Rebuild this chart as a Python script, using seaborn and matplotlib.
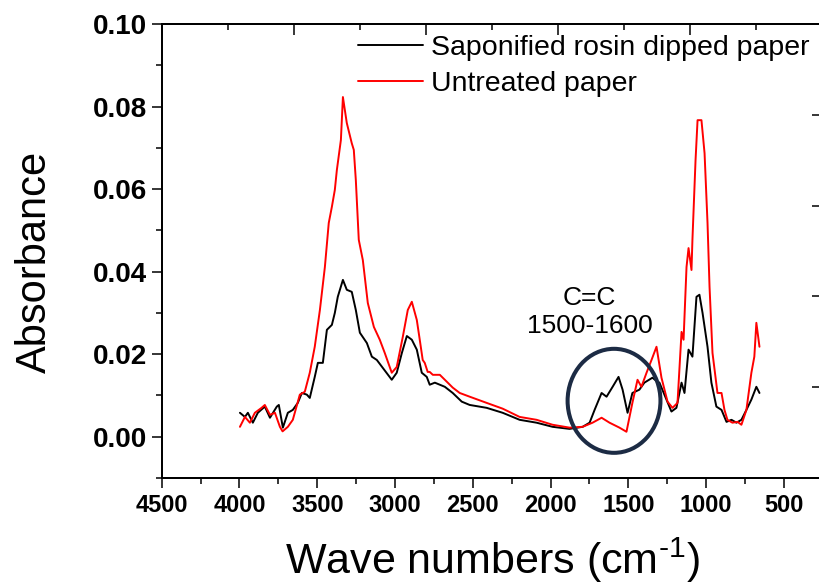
import matplotlib
matplotlib.use("Agg")
import matplotlib.pyplot as plt
import seaborn as sns
import pandas as pd
from matplotlib.patches import Ellipse
from matplotlib.ticker import MultipleLocator
from matplotlib.lines import Line2D

# ---- data ----
wn_rosin = [3997, 3965, 3946, 3914, 3882, 3837, 3804, 3760, 3747, 3721, 3689, 3657, 3625, 3599,
            3567, 3548, 3516, 3496, 3464, 3438, 3406, 3387, 3368, 3335, 3310, 3278, 3252, 3226,
            3181, 3149, 3117, 3079, 3021, 2989, 2956, 2924, 2892, 2860, 2828, 2796, 2777, 2744,
            2680, 2629, 2571, 2520, 2411, 2308, 2199, 2090, 1987, 1878, 1794, 1749, 1717, 1672,
            1640, 1601, 1563, 1537, 1505, 1474, 1429, 1397, 1345, 1313, 1300, 1255, 1223, 1191,
            1158, 1139, 1113, 1088, 1062, 1043, 1023, 991, 966, 934, 901, 869, 837, 805, 773,
            741, 709, 677, 657]
abs_rosin = [0.0058, 0.0048, 0.0058, 0.0034, 0.0058, 0.0073, 0.0046, 0.0073, 0.0077, 0.0022,
             0.0058, 0.0065, 0.0082, 0.0106, 0.0102, 0.0094, 0.0145, 0.0179, 0.0179, 0.0259,
             0.0271, 0.0300, 0.0339, 0.0380, 0.0356, 0.0351, 0.0307, 0.0252, 0.0227, 0.0194,
             0.0186, 0.0167, 0.0138, 0.0155, 0.0203, 0.0244, 0.0235, 0.0211, 0.0155, 0.0145,
             0.0126, 0.0131, 0.0121, 0.0106, 0.0085, 0.0077, 0.0070, 0.0058, 0.0041, 0.0034,
             0.0024, 0.0019, 0.0024, 0.0034, 0.0065, 0.0106, 0.0097, 0.0121, 0.0145, 0.0114,
             0.0058, 0.0106, 0.0114, 0.0131, 0.0143, 0.0133, 0.0131, 0.0090, 0.0061, 0.0070,
             0.0131, 0.0106, 0.0211, 0.0194, 0.0339, 0.0344, 0.0300, 0.0218, 0.0131, 0.0073,
             0.0065, 0.0036, 0.0041, 0.0034, 0.0041, 0.0065, 0.0090, 0.0121, 0.0106]

wn_untreated = [3997, 3965, 3933, 3901, 3858, 3837, 3804, 3772, 3740, 3723, 3689, 3657, 3612,
                3580, 3548, 3516, 3483, 3451, 3426, 3406, 3387, 3374, 3348, 3335, 3310, 3278,
                3265, 3252, 3233, 3207, 3175, 3136, 3098, 3066, 3021, 2989, 2950, 2918, 2892,
                2860, 2841, 2822, 2809, 2790, 2777, 2757, 2712, 2661, 2629, 2584, 2520, 2411,
                2308, 2199, 2090, 1987, 1878, 1794, 1730, 1672, 1621, 1557, 1512, 1474, 1441,
                1416, 1383, 1351, 1319, 1287, 1248, 1216, 1184, 1158, 1145, 1126, 1113, 1094,
                1088, 1068, 1055, 1030, 1010, 991, 978, 959, 927, 901, 882, 863, 831, 798, 773,
                741, 709, 690, 677, 657]
abs_untreated = [0.0024, 0.0048, 0.0034, 0.0058, 0.0070, 0.0077, 0.0053, 0.0058, 0.0024, 0.0013,
                 0.0024, 0.0041, 0.0102, 0.0109, 0.0155, 0.0218, 0.0307, 0.0411, 0.0518, 0.0557,
                 0.0598, 0.0646, 0.0719, 0.0823, 0.0760, 0.0711, 0.0695, 0.0622, 0.0477, 0.0428,
                 0.0324, 0.0266, 0.0235, 0.0203, 0.0155, 0.0169, 0.0242, 0.0307, 0.0327, 0.0283,
                 0.0235, 0.0186, 0.0179, 0.0157, 0.0157, 0.0150, 0.0150, 0.0131, 0.0119, 0.0106,
                 0.0097, 0.0082, 0.0068, 0.0048, 0.0041, 0.0029, 0.0022, 0.0024, 0.0034, 0.0046,
                 0.0034, 0.0022, 0.0012, 0.0082, 0.0138, 0.0121, 0.0155, 0.0186, 0.0218, 0.0143,
                 0.0085, 0.0070, 0.0082, 0.0254, 0.0235, 0.0411, 0.0457, 0.0404, 0.0477, 0.0670,
                 0.0767, 0.0767, 0.0687, 0.0518, 0.0363, 0.0203, 0.0106, 0.0106, 0.0065, 0.0041,
                 0.0034, 0.0036, 0.0029, 0.0065, 0.0155, 0.0194, 0.0276, 0.0218]

series_names = ["Saponified rosin dipped paper", "Untreated paper"]
series_colors = ["black", "red"]
x_ticks = [4500, 4000, 3500, 3000, 2500, 2000, 1500, 1000, 500]
y_ticks = [0.00, 0.02, 0.04, 0.06, 0.08, 0.10]
annotation = "C=C\n1500-1600"

df = pd.concat([
    pd.DataFrame({"wn": wn_rosin, "a": abs_rosin, "s": series_names[0]}),
    pd.DataFrame({"wn": wn_untreated, "a": abs_untreated, "s": series_names[1]}),
])

sns.set_theme(style="ticks")
plt.rcParams["font.family"] = ["Liberation Sans", "DejaVu Sans"]
plt.rcParams["mathtext.fontset"] = "custom"
plt.rcParams["mathtext.rm"] = "Liberation Sans"
plt.rcParams["mathtext.it"] = "Liberation Sans"
plt.rcParams["text.color"] = "black"
plt.rcParams["axes.labelcolor"] = "black"
plt.rcParams["xtick.color"] = "black"
plt.rcParams["ytick.color"] = "black"
plt.rcParams["axes.edgecolor"] = "black"

fig = plt.figure(figsize=(8.19, 5.84), dpi=100)
fig.patch.set_facecolor("white")
ax = fig.add_axes([161.7 / 819, 106 / 584, (822 - 161.7) / 819, 454 / 584])
ax.set_facecolor("white")

sns.lineplot(data=df, x="wn", y="a", hue="s", palette=dict(zip(series_names, series_colors)),
             hue_order=series_names, ax=ax, linewidth=1.4, legend=False, sort=True, estimator=None)

ax.set_xlim(4500, 255)
ax.set_ylim(-0.01, 0.10)
ax.set_xticks(x_ticks)
ax.set_xticklabels([str(t) for t in x_ticks], fontsize=17, fontweight="bold", color="black")
ax.set_yticks(y_ticks)
ax.set_yticklabels([f"{t:.2f}" for t in y_ticks], fontsize=20, fontweight="bold", color="black")
ax.xaxis.set_minor_locator(MultipleLocator(250))
ax.yaxis.set_minor_locator(MultipleLocator(0.01))
ax.tick_params(which="both", direction="out", width=1.1, color="black", top=False, right=False)
ax.tick_params(which="major", length=7.5)
ax.tick_params(which="minor", length=4)
ax.tick_params(axis="x", pad=4)
ax.tick_params(axis="y", pad=3)
for sp in ax.spines.values():
    sp.set_visible(True)
    sp.set_linewidth(1.2)
    sp.set_color("black")

ax.set_xlabel(r"Wave numbers (cm$^{\text{-1}}$)", fontsize=31, color="black")
ax.set_ylabel("Absorbance", fontsize=30, color="black")
ax.xaxis.label.set_va("center")
ax.yaxis.label.set_va("center")
ax.xaxis.set_label_coords(0.5, (478 - 560) / 454)
ax.yaxis.set_label_coords((35 - 161.7) / 660, (478 - 262) / 454)

# mirrored tick axes (top and right) with their own scale
axt = ax.twiny()
axt.set_xlim(0, 10)
axt.xaxis.set_major_locator(MultipleLocator(2))
axt.xaxis.set_minor_locator(MultipleLocator(1))
axt.tick_params(axis="x", which="both", direction="in", labeltop=False, labelbottom=False,
                top=True, bottom=False, width=1.1, color="black")
axt.tick_params(axis="x", which="major", length=8)
axt.tick_params(axis="x", which="minor", length=4.5)
axr = ax.twinx()
axr.set_ylim(0, 10)
axr.yaxis.set_major_locator(MultipleLocator(2))
axr.yaxis.set_minor_locator(MultipleLocator(1))
axr.tick_params(axis="y", which="both", direction="in", labelright=False, labelleft=False,
                right=True, left=False, width=1.1, color="black")
axr.tick_params(axis="y", which="major", length=7)
axr.tick_params(axis="y", which="minor", length=2.5)
for a2 in (axt, axr):
    for sp in a2.spines.values():
        sp.set_linewidth(1.2)
        sp.set_color("black")
    a2.grid(False)

ax.add_patch(Ellipse((1592, 0.0087), 597, 0.0252, fill=False, edgecolor="#1c2b44",
                     linewidth=2.9, zorder=5))
ax.text(1749, 0.0302, annotation, ha="center", va="center", fontsize=19, linespacing=1.25,
        color="black")

handles = [Line2D([], [], color=c, linewidth=1.4) for c in series_colors]
leg = ax.legend(handles, series_names, loc="upper left", bbox_to_anchor=(358 / 819, 1 - 35 / 584),
                bbox_transform=fig.transFigure, frameon=False, fontsize=20.5, borderpad=0,
                borderaxespad=0, handlelength=2.3, handletextpad=0.25, labelspacing=0.35)
for t in leg.get_texts():
    t.set_color("black")

fig.savefig("out.png", dpi=100, facecolor="white")
